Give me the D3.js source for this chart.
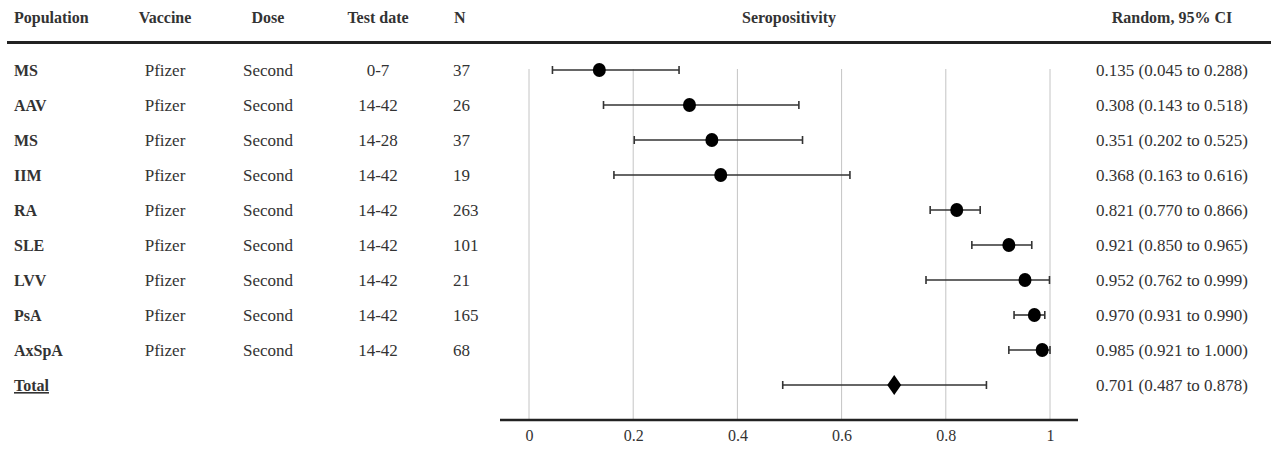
<!DOCTYPE html>
<meta charset="utf-8">
<script src="https://cdn.jsdelivr.net/npm/d3@7"></script>
<style>
body { margin: 0; background: #fff; }
text { font-family: "Liberation Serif", "Times New Roman", serif; font-size: 17px; fill: #333; }
.hdr { font-weight: bold; font-size: 16px; }
.grid { stroke: #c4c4c4; stroke-width: 1; }
.ci { stroke: #333; stroke-width: 1.6; }
</style>
<body>
<script>
// table columns
var population = ["MS", "AAV", "MS", "IIM", "RA", "SLE", "LVV", "PsA", "AxSpA"];
var vaccine = ["Pfizer", "Pfizer", "Pfizer", "Pfizer", "Pfizer", "Pfizer", "Pfizer", "Pfizer", "Pfizer"];
var dose = ["Second", "Second", "Second", "Second", "Second", "Second", "Second", "Second", "Second"];
var testDate = ["0-7", "14-42", "14-28", "14-42", "14-42", "14-42", "14-42", "14-42", "14-42"];
var nSize = [37, 26, 37, 19, 263, 101, 21, 165, 68];

// estimates
var est = [0.135, 0.308, 0.351, 0.368, 0.821, 0.921, 0.952, 0.970, 0.985];
var lower = [0.045, 0.143, 0.202, 0.163, 0.770, 0.850, 0.762, 0.931, 0.921];
var upper = [0.288, 0.518, 0.525, 0.616, 0.866, 0.965, 0.999, 0.990, 1.000];

var total = { est: 0.701, lo: 0.487, hi: 0.878 };
var xTicks = [0, 0.2, 0.4, 0.6, 0.8, 1];

var width = 1280, height = 449;

var svg = d3.select("body").append("svg")
    .attr("width", width)
    .attr("height", height);

var x = d3.scaleLinear().domain([0, 1]).range([529, 1050]);
var y = d3.scaleLinear().domain([0, 9]).range([70, 385]);

var f3 = d3.format(".3f");

// header
var headers = [
  { t: "Population", x: 14, a: "start" },
  { t: "Vaccine", x: 165, a: "middle" },
  { t: "Dose", x: 268, a: "middle" },
  { t: "Test date", x: 378, a: "middle" },
  { t: "N", x: 454, a: "start" },
  { t: "Seropositivity", x: 789, a: "middle" },
  { t: "Random, 95% CI", x: 1172, a: "middle" }
];
svg.selectAll(".hdr").data(headers).enter().append("text")
    .attr("class", "hdr")
    .attr("x", function(d) { return d.x; })
    .attr("y", 23)
    .attr("text-anchor", function(d) { return d.a; })
    .text(function(d) { return d.t; });

svg.append("line")
    .attr("x1", 7).attr("x2", 1271)
    .attr("y1", 42.5).attr("y2", 42.5)
    .attr("stroke", "#222").attr("stroke-width", 3);

// gridlines
svg.selectAll(".grid").data(xTicks).enter().append("line")
    .attr("class", "grid")
    .attr("x1", x).attr("x2", x)
    .attr("y1", 69).attr("y2", 420);

// axis
var axis = d3.axisBottom(x).tickValues(xTicks).tickSize(0).tickPadding(10)
    .tickFormat(function(d) { return d; });
var ax = svg.append("g").attr("transform", "translate(0,420)").call(axis);
ax.select(".domain").remove();
ax.selectAll("text").style("font-size", "16px").attr("fill", "#333")
    .style("font-family", "Liberation Serif, serif");
svg.append("line")
    .attr("x1", 500).attr("x2", 1078)
    .attr("y1", 420).attr("y2", 420)
    .attr("stroke", "#222").attr("stroke-width", 2.5);

// rows
var rows = svg.selectAll(".row").data(population).enter().append("g")
    .attr("class", "row")
    .attr("transform", function(d, i) { return "translate(0," + y(i) + ")"; });

rows.append("text").attr("class", "hdr").attr("x", 14).attr("y", 6).text(function(d) { return d; });
rows.append("text").attr("x", 165).attr("y", 6).attr("text-anchor", "middle").text(function(d, i) { return vaccine[i]; });
rows.append("text").attr("x", 268).attr("y", 6).attr("text-anchor", "middle").text(function(d, i) { return dose[i]; });
rows.append("text").attr("x", 378).attr("y", 6).attr("text-anchor", "middle").text(function(d, i) { return testDate[i]; });
rows.append("text").attr("x", 453).attr("y", 6).text(function(d, i) { return nSize[i]; });
rows.append("text").attr("x", 1172).attr("y", 6).attr("text-anchor", "middle")
    .text(function(d, i) { return f3(est[i]) + " (" + f3(lower[i]) + " to " + f3(upper[i]) + ")"; });

function ciBar(g, lo, hi) {
  g.append("line").attr("class", "ci").attr("x1", x(lo)).attr("x2", x(hi)).attr("y1", 0).attr("y2", 0);
  g.append("line").attr("class", "ci").attr("x1", x(lo)).attr("x2", x(lo)).attr("y1", -4).attr("y2", 4);
  g.append("line").attr("class", "ci").attr("x1", x(hi)).attr("x2", x(hi)).attr("y1", -4).attr("y2", 4);
}

rows.each(function(d, i) {
  var g = d3.select(this);
  ciBar(g, lower[i], upper[i]);
  g.append("ellipse").attr("cx", x(est[i])).attr("cy", 0).attr("rx", 6.5).attr("ry", 7).attr("fill", "#000");
});

// total row
var tg = svg.append("g").attr("transform", "translate(0," + y(9) + ")");
tg.append("text").attr("class", "hdr").attr("x", 14).attr("y", 6)
    .attr("text-decoration", "underline").text("Total");
tg.append("text").attr("x", 1172).attr("y", 6).attr("text-anchor", "middle")
    .text(f3(total.est) + " (" + f3(total.lo) + " to " + f3(total.hi) + ")");
ciBar(tg, total.lo, total.hi);
var dx = x(total.est);
tg.append("path")
    .attr("d", "M" + dx + ",-10L" + (dx + 7) + ",0L" + dx + ",10L" + (dx - 7) + ",0Z")
    .attr("fill", "#000");
</script>
